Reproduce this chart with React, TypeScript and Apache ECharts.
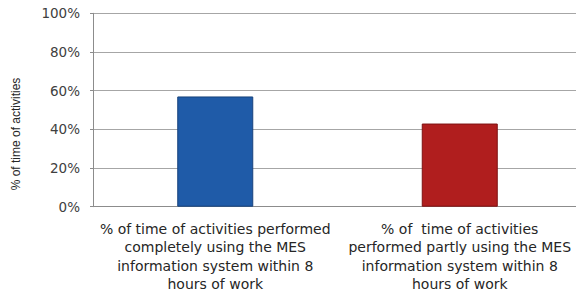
import React, { useEffect, useRef } from "react";
import * as echarts from "echarts";

const categories = [
  "% of time of activities performed\ncompletely using the MES\ninformation system within 8\nhours of work",
  "% of  time of activities\nperformed partly using the MES\ninformation system within 8\nhours of work",
];
const values = [57, 43];
const barColors = ["#1F5BA8", "#B01E1E"];
const barBorders = ["#17427C", "#7E1212"];
const yTicks = [0, 20, 40, 60, 80, 100];
const yAxisTitle = "% of time of activities";

export default function App() {
  const ref = useRef<HTMLDivElement>(null);
  useEffect(() => {
    if (!ref.current) return;
    const chart = echarts.init(ref.current, null, { renderer: "svg" });
    chart.setOption({
      animation: false,
      backgroundColor: "#ffffff",
      grid: {
        left: 93,
        width: 489,
        top: 13.3,
        height: 193.4,
        containLabel: false,
        outerBoundsMode: "none",
      },
      xAxis: {
        type: "category",
        data: categories,
        axisLine: { show: true, lineStyle: { color: "#8c8c8c", width: 1 } },
        axisTick: { show: false },
        axisLabel: {
          interval: 0,
          margin: 13,
          color: "#262626",
          fontFamily: "DejaVu Sans",
          fontSize: 14,
          lineHeight: 18.5,
          align: "center",
        },
      },
      yAxis: {
        type: "value",
        min: yTicks[0],
        max: yTicks[yTicks.length - 1],
        interval: 20,
        axisLine: { show: true, lineStyle: { color: "#8c8c8c", width: 1 } },
        axisTick: { show: true, length: 3, lineStyle: { color: "#8c8c8c" } },
        splitLine: { show: true, lineStyle: { color: "#a6a6a6", width: 1.2 } },
        axisLabel: {
          formatter: "{value}%",
          margin: 13,
          color: "#404040",
          fontFamily: "DejaVu Sans",
          fontSize: 13.5,
        },
      },
      graphic: [
        {
          type: "text",
          x: 16,
          y: 134,
          rotation: Math.PI / 2,
          style: {
            text: yAxisTitle,
            fill: "#262626",
            font: "12px 'Liberation Sans'",
            align: "center",
            verticalAlign: "middle",
          },
        },
      ],
      series: [
        {
          type: "bar",
          barWidth: 76,
          data: values.map((v, i) => ({
            value: v,
            itemStyle: { color: barColors[i], borderColor: barBorders[i], borderWidth: 1 },
          })),
        },
      ],
    });
    return () => chart.dispose();
  }, []);
  return <div ref={ref} style={{ width: 576, height: 293, position: "absolute", left: 0, top: 0 }} />;
}
